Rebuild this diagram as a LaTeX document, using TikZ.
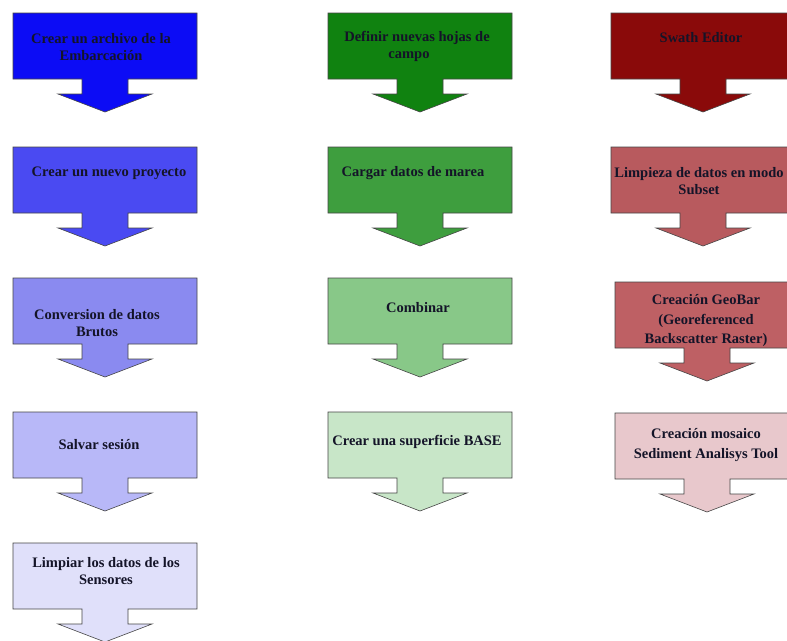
\documentclass[tikz,border=0pt]{standalone}
\usepackage{fontspec}
\setmainfont{Liberation Serif}
\definecolor{bA}{RGB}{12,12,245}
\definecolor{bB}{RGB}{74,74,242}
\definecolor{bC}{RGB}{138,138,240}
\definecolor{bD}{RGB}{184,184,248}
\definecolor{bE}{RGB}{224,224,250}
\definecolor{gA}{RGB}{16,130,16}
\definecolor{gB}{RGB}{62,158,62}
\definecolor{gC}{RGB}{136,200,136}
\definecolor{gD}{RGB}{200,230,200}
\definecolor{rA}{RGB}{138,10,10}
\definecolor{rB}{RGB}{184,90,94}
\definecolor{rC}{RGB}{190,96,100}
\definecolor{rD}{RGB}{232,200,204}
\definecolor{txt}{RGB}{20,20,40}
\definecolor{edge}{RGB}{70,70,70}
\tikzset{
  boxline/.style={draw=edge, line width=0.6pt, line join=miter},
  lbl/.style={font=\bfseries\fontsize{14.5}{17}\selectfont, text=txt, align=center, inner sep=0pt},
  wide/.style={font=\bfseries\fontsize{14.5}{19.5}\selectfont}
}
% #1 name, #2 box centre x, #3 box top, #4 fill, #5 text x, #6 text y, #7 text, #8 extra label style
\newcommand\dcall[8]{%
  \draw[boxline, fill=#4] (#2-92,#3) -- (#2+92,#3) -- (#2+92,#3+66) -- (#2+23,#3+66)
    -- (#2+23,#3+81) -- (#2+47,#3+81) -- (#2,#3+99) -- (#2-47,#3+81) -- (#2-23,#3+81)
    -- (#2-23,#3+66) -- (#2-92,#3+66) -- cycle;
  \node[lbl,#8] (#1) at (#5,#6) {#7};}
\begin{document}
\begin{tikzpicture}[x=1pt,y=-1pt]
\useasboundingbox (0,0) rectangle (787,640);
\clip (0,0) rectangle (787,640);
\fill[white] (0,0) rectangle (787,640);
% column 1
\dcall{a1}{105}{13}{bA}{101}{47.5}{Crear un archivo de la\\Embarcación}{}
\dcall{a2}{105}{147}{bB}{109}{173}{Crear un nuevo proyecto}{}
\dcall{a3}{105}{278}{bC}{97}{323.5}{Conversion de datos\\Brutos}{}
\dcall{a4}{105}{412}{bD}{99}{445}{Salvar sesión}{}
\dcall{a5}{105}{543}{bE}{106}{571}{Limpiar los datos de los\\Sensores}{}
% column 2
\dcall{b1}{420}{13}{gA}{417}{46.5}{Definir nuevas hojas de\\campo\hspace*{16pt}}{}
\dcall{b2}{420}{147}{gB}{413}{173}{Cargar datos de marea}{}
\dcall{b3}{420}{278}{gC}{418}{308}{Combinar}{}
\dcall{b4}{420}{412}{gD}{417}{442}{Crear una superficie BASE}{}
% column 3
\dcall{c1}{703}{13}{rA}{701}{38}{Swath Editor}{}
\dcall{c2}{703}{147}{rB}{699}{181.5}{Limpieza de datos en modo\\Subset}{}
\dcall{c3}{707}{282}{rC}{706}{321}{Creación GeoBar\\(Georeferenced\\Backscatter Raster)}{wide}
\dcall{c4}{707}{413}{rD}{706}{445}{Creación mosaico\\Sediment Analisys Tool}{wide}
\end{tikzpicture}
\end{document}
